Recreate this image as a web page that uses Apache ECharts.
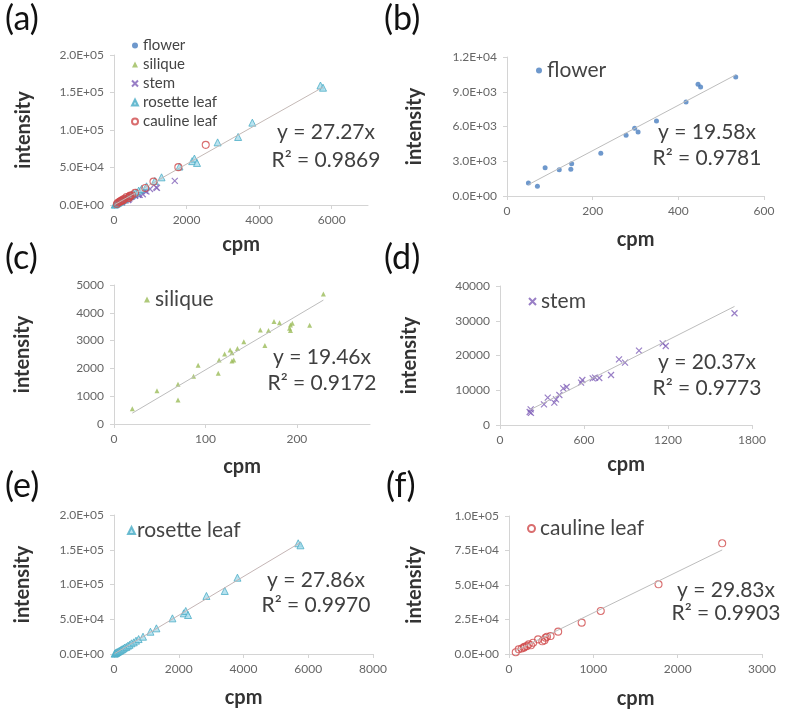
<!DOCTYPE html>
<html><head><meta charset="utf-8">
<script src="https://cdn.jsdelivr.net/npm/echarts@6/dist/echarts.min.js"></script>
<style>html,body{margin:0;padding:0;background:#fff}#c{width:785px;height:719px}</style>
</head><body><div id="c"></div>
<script>
// ---- data (cpm, intensity) ----
const flower = [[50,1120],[71,840],[89,2440],[122,2270],[151,2790],[149,2300],[219,3700],[278,5240],[298,5850],[306,5520],[349,6470],[418,8110],[446,9640],[452,9410],[534,10270]];
const silique = [[20,551],[47,1200],[70,1430],[70,863],[87,1715],[92,2110],[114,1823],[115,2300],[121,2520],[127,2660],[129,2565],[129,2265],[131,2300],[135,2720],[142,2960],[160,3380],[165,2820],[169,3360],[175,3690],[181,3640],[192,3440],[193,3560],[195,3620],[193,3360],[214,3550],[229,4675]];
const stem = [[212,3740],[219,4510],[221,3500],[314,5950],[341,7870],[388,6430],[400,7390],[424,8630],[452,10550],[476,10940],[579,12180],[588,12950],[662,13430],[679,13630],[709,13530],[793,14390],[850,18900],[893,17940],[993,21390],[1162,23510],[1184,22740],[1675,32150]];
const rosette = [[20,500],[40,1100],[60,1600],[80,2300],[100,2700],[130,3500],[160,4400],[190,5000],[220,6200],[250,6800],[290,8000],[330,9300],[380,10200],[430,11900],[480,13200],[540,15400],[610,16800],[680,19200],[760,21500],[896,24900],[1125,32100],[1310,36900],[1805,51300],[2154,58500],[2216,61900],[2287,56100],[2855,83500],[3421,90700],[3813,109800],[5690,159300],[5760,156400]];
const cauline = [[80,1300],[115,3400],[150,4000],[175,4600],[183,5300],[210,5700],[234,7000],[260,6300],[286,8200],[345,10600],[395,9200],[421,9900],[433,11800],[450,12500],[493,13000],[583,16200],[862,22700],[1088,31200],[1773,50500],[2528,80200]];
const seriesNames = ['flower','silique','stem','rosette leaf','cauline leaf'];
const slopes = {a:27.27, b:19.58, c:19.46, d:20.37, e:27.86, f:29.83};
const r2 = {a:'0.9869', b:'0.9781', c:'0.9172', d:'0.9773', e:'0.9970', f:'0.9903'};
const panelLabels = ['(a)','(b)','(c)','(d)','(e)','(f)'];
const xTitle = 'cpm', yTitle = 'intensity';

const FONT = 'Lato, "Liberation Sans", sans-serif';
const sci = v => { if (v === 0) return '0.0E+00'; const e = Math.floor(Math.log10(Math.abs(v)) + 1e-9); const m = v / Math.pow(10, e); return m.toFixed(1) + 'E+' + String(e).padStart(2, '0'); };

const grids = [
  {left:114, top:55, width:254, height:150},
  {left:507, top:57, width:257, height:139},
  {left:114, top:285, width:256, height:139},
  {left:500, top:286, width:252, height:139},
  {left:114, top:515, width:259, height:139},
  {left:509, top:516, width:253, height:138}
];
const axLine = {show:true, lineStyle:{color:'#d4d4d4', width:1}};
const axTick = {show:true, length:4, lineStyle:{color:'#d4d4d4'}};
function xA(gi, max, interval, hideMax, gap){
  return {type:'value', gridIndex:gi, min:0, max, interval, axisLine:axLine, axisTick:axTick, splitLine:{show:false},
    axisLabel:{color:'#666', fontSize:12, fontFamily:FONT, margin:9, showMaxLabel:!hideMax, formatter: v => (v % interval === 0 ? String(v) : '')},
    name:xTitle, nameLocation:'middle', nameGap:gap, nameTextStyle:{fontSize:20, fontWeight:'bold', color:'#333', fontFamily:FONT}};
}
function yA(gi, max, interval, useSci, gap){
  return {type:'value', gridIndex:gi, min:0, max, interval, axisLine:axLine, axisTick:axTick, splitLine:{show:false},
    axisLabel:{color:'#666', fontSize:12, fontFamily:FONT, margin:10, formatter: useSci ? sci : (v => String(v))},
    name:yTitle, nameLocation:'middle', nameGap:gap, nameTextStyle:{fontSize:20, fontWeight:'bold', color:'#333', fontFamily:FONT}};
}
const xAxes = [xA(0,7000,2000,true,30), xA(1,600,200,false,34), xA(2,280,100,true,33), xA(3,1800,600,false,30), xA(4,8000,2000,false,34), xA(5,3000,1000,false,35)];
const yAxes = [yA(0,200000,50000,true,80), yA(1,12000,3000,true,82), yA(2,5000,1000,false,81), yA(3,40000,10000,false,80), yA(4,200000,50000,true,81), yA(5,100000,25000,true,84)];

const styles = {
  'flower': {symbol:'circle', symbolSize:5, itemStyle:{color:'#4a7ebf'}},
  'silique': {symbol:'triangle', symbolSize:5, itemStyle:{color:'#9bbb59'}},
  'stem': {symbol:'path://M0,0L10,10M10,0L0,10', symbolSize:6, itemStyle:{color:'rgba(0,0,0,0)', borderColor:'#7f5fb8', borderWidth:1.2}},
  'rosette leaf': {symbol:'triangle', symbolSize:7, itemStyle:{color:'#a8dcec', borderColor:'#4bacc6', borderWidth:1}},
  'cauline leaf': {symbol:'circle', symbolSize:7, itemStyle:{color:'rgba(255,255,255,0)', borderColor:'#d0484a', borderWidth:1.1}}
};
const dataByName = {'flower':flower, 'silique':silique, 'stem':stem, 'rosette leaf':rosette, 'cauline leaf':cauline};

const series = [];
function scatter(name, gi){ series.push(Object.assign({type:'scatter', name, xAxisIndex:gi, yAxisIndex:gi, data:dataByName[name], z:3}, JSON.parse(JSON.stringify(styles[name])))); }
function trend(pts, k, gi, color){
  const xs = pts.map(p => p[0]); const x0 = Math.min(...xs), x1 = Math.max(...xs);
  series.push({type:'line', xAxisIndex:gi, yAxisIndex:gi, data:[[x0, k*x0],[x1, k*x1]], showSymbol:false, symbol:'none', silent:true, z:4,
    lineStyle:{color, width:1}});
}
// panel a: all five
seriesNames.forEach(n => scatter(n, 0));
trend([].concat(flower, silique, stem, rosette, cauline), slopes.a, 0, '#c4b9b6');
scatter('flower',1); trend(flower, slopes.b, 1, '#bdbdbd');
scatter('silique',2); trend(silique, slopes.c, 2, '#bdbdbd');
scatter('stem',3); trend(stem, slopes.d, 3, '#bdbdbd');
scatter('rosette leaf',4); trend(rosette, slopes.e, 4, '#c4b5b5');
scatter('cauline leaf',5); trend(cauline, slopes.f, 5, '#bdbdbd');

const legends = [
  {data:seriesNames, left:126, top:33, orient:'vertical', itemGap:4, itemWidth:6, itemHeight:6, textStyle:{fontSize:15, color:'#444', fontFamily:FONT}},
  {data:['flower'], left:531, top:55, itemWidth:6, itemHeight:6, textStyle:{fontSize:21, color:'#444', fontFamily:FONT}},
  {data:['silique'], left:139, top:284, itemWidth:6, itemHeight:6, textStyle:{fontSize:21, color:'#444', fontFamily:FONT}},
  {data:['stem'], left:523, top:286, itemWidth:7, itemHeight:7, textStyle:{fontSize:21, color:'#444', fontFamily:FONT}},
  {data:['rosette leaf'], left:122, top:515, itemWidth:7, itemHeight:7, textStyle:{fontSize:21, color:'#444', fontFamily:FONT, padding:[0,0,0,-3]}},
  {data:['cauline leaf'], left:522, top:513, itemWidth:7, itemHeight:7, textStyle:{fontSize:21, color:'#444', fontFamily:FONT}}
].map(l => Object.assign({selectedMode:false}, l));

const eqPos = [[326,132,160],[707,132,158],[322,357,383],[707,362,388],[316,580,605],[726,590,613]];
const keys = ['a','b','c','d','e','f'];
const graphics = [];
keys.forEach((k,i) => {
  const [cx, y1, y2] = eqPos[i];
  graphics.push({type:'text', x:cx, y:y1, style:{text:'y = ' + slopes[k].toFixed(2) + 'x', font:'21px ' + FONT, fill:'#404040', align:'center', verticalAlign:'middle'}});
  graphics.push({type:'text', x:cx, y:y2, style:{text:'R\u00b2 = ' + r2[k], font:'21px ' + FONT, fill:'#404040', align:'center', verticalAlign:'middle'}});
});
const labPos = [[5,19],[384,19],[5,258],[384,258],[5,486],[386,486]];
panelLabels.forEach((t,i) => graphics.push({type:'text', x:labPos[i][0], y:labPos[i][1], style:{text:t, font:'34px ' + FONT, fill:'#111', align:'left', verticalAlign:'middle'}}));

const chart = echarts.init(document.getElementById('c'), null, {renderer:'canvas'});
chart.setOption({
  animation:false, backgroundColor:'#fff',
  grid: grids, xAxis: xAxes, yAxis: yAxes, series, legend: legends, graphic: graphics
});
</script></body></html>
